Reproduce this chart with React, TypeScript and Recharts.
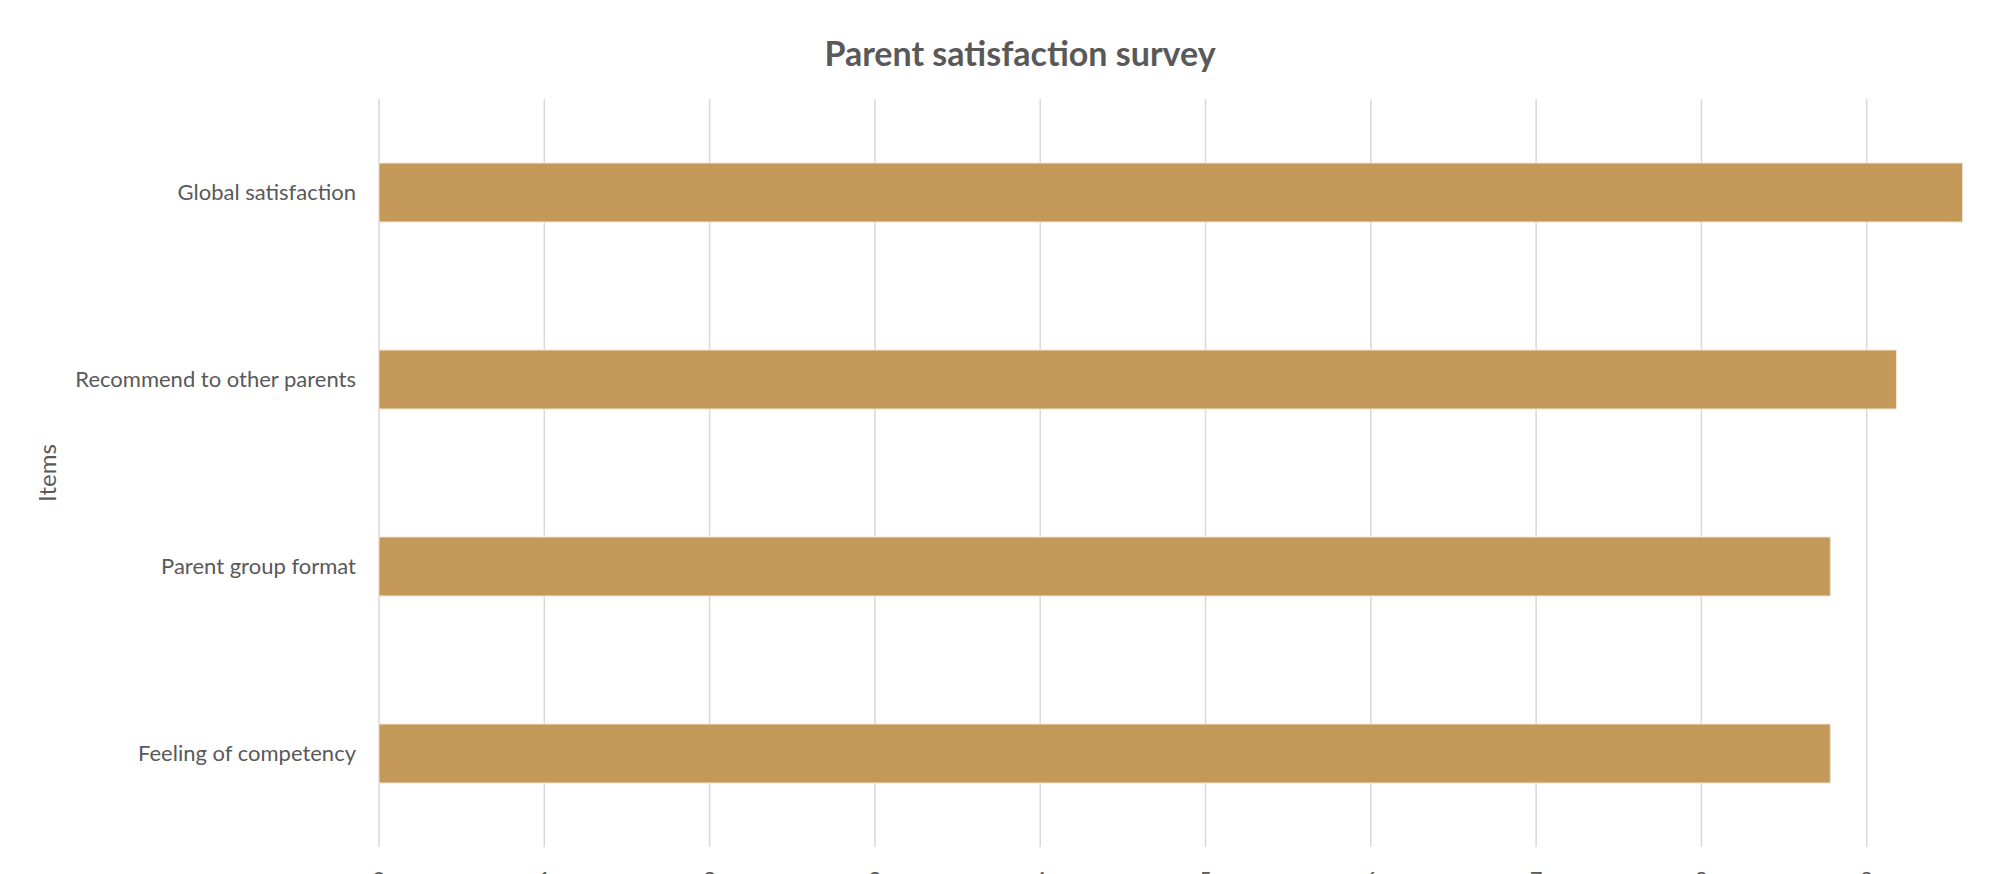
import React from 'react';
import { BarChart, Bar, XAxis, YAxis, CartesianGrid } from 'recharts';

const categories = ['Global satisfaction', 'Recommend to other parents', 'Parent group format', 'Feeling of competency'];
const scores = [9.58, 9.18, 8.78, 8.78];
const xTicks = [0, 1, 2, 3, 4, 5, 6, 7, 8, 9, 10];
const title = 'Parent satisfaction survey';
const yTitle = 'Items';

const data = categories.map((name, i) => ({ name, value: scores[i] }));

const FONT = 'Lato, "Open Sans", sans-serif';
const GREY = '#595959';

const YLabel = (props: any) => {
  const vb = props.viewBox || {};
  const cx = vb.x + 16;
  const cy = vb.y + vb.height / 2;
  return (
    <text
      x={cx}
      y={cy}
      transform={`rotate(-90, ${cx}, ${cy})`}
      textAnchor="middle"
      dominantBaseline="central"
      fill={GREY}
      fontSize={24}
      fontFamily={FONT}
    >
      {yTitle}
    </text>
  );
};

export default function App() {
  return (
    <div
      style={{
        position: 'fixed',
        left: 0,
        top: 0,
        width: 2015,
        height: 874,
        overflow: 'hidden',
        background: '#ffffff',
      }}
    >
      <div
        style={{
          position: 'absolute',
          left: 0,
          top: 33,
          width: 2040,
          textAlign: 'center',
          fontFamily: FONT,
          fontWeight: 700,
          fontSize: 34,
          lineHeight: '40px',
          color: GREY,
        }}
      >
        {title}
      </div>
      <div style={{ position: 'absolute', left: 0, top: 0 }}>
        <BarChart
          width={2060}
          height={910}
          data={data}
          layout="vertical"
          margin={{ top: 99, right: 28, bottom: 33, left: 30 }}
        >
          <CartesianGrid horizontal={false} stroke="#d9d9d9" strokeWidth={1.5} />
          <XAxis
            type="number"
            domain={[0, 10]}
            ticks={xTicks}
            interval={0}
            axisLine={false}
            tickLine={false}
            tickSize={0}
            tickMargin={24}
            height={30}
            tick={{ fill: GREY, fontSize: 22, fontFamily: FONT }}
          />
          <YAxis
            type="category"
            dataKey="name"
            width={349}
            axisLine={false}
            tickLine={false}
            tickSize={0}
            tickMargin={23}
            interval={0}
            tick={{ fill: GREY, fontSize: 22, fontFamily: FONT }}
            label={<YLabel />}
          />
          <Bar
            dataKey="value"
            fill="#C39859"
            stroke="#F1E4D1"
            strokeWidth={1}
            barSize={59}
            isAnimationActive={false}
          />
        </BarChart>
      </div>
    </div>
  );
}
